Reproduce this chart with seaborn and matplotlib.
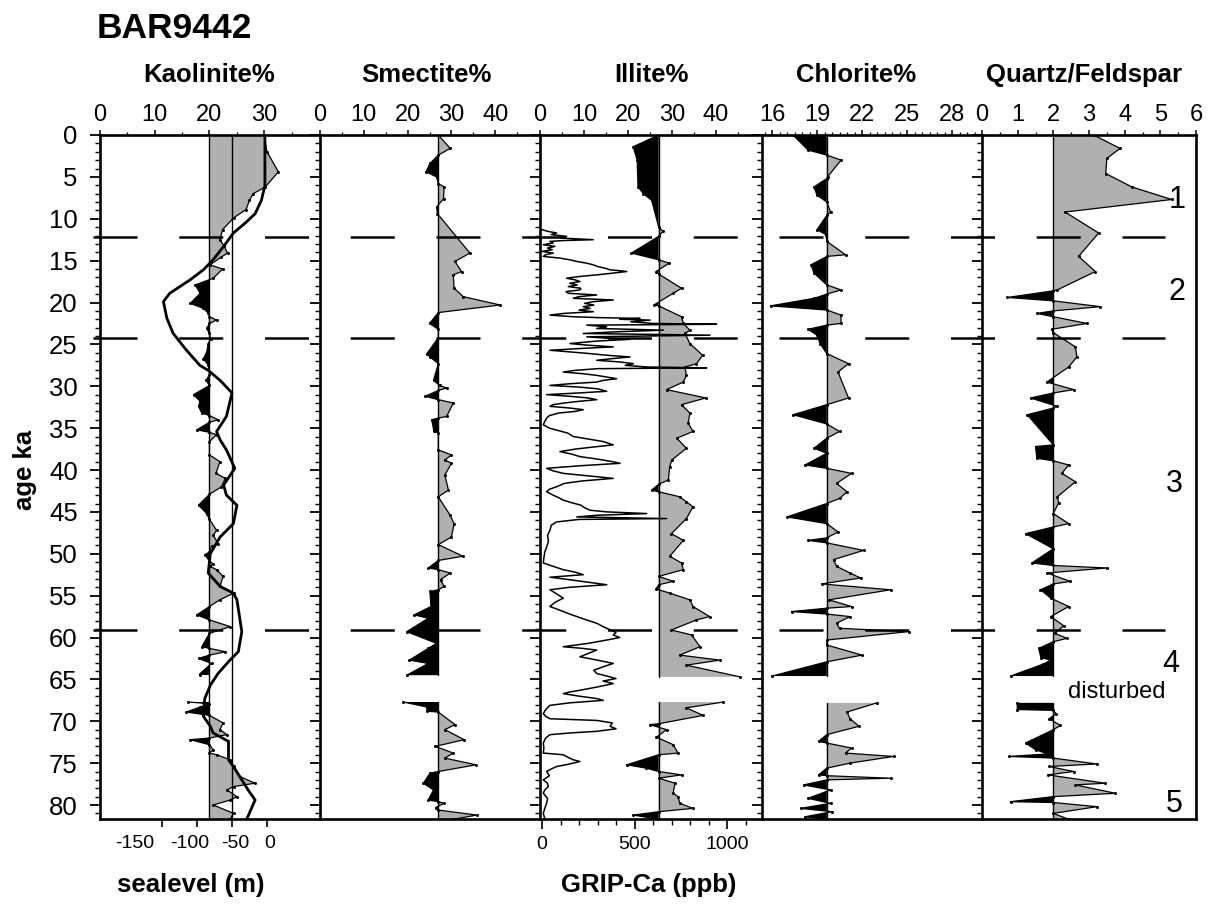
import numpy as np
import matplotlib
matplotlib.use("Agg")
import matplotlib.pyplot as plt
import seaborn as sns
from matplotlib.lines import Line2D
from matplotlib.transforms import blended_transform_factory
from matplotlib.ticker import FixedLocator, MultipleLocator

nan = np.nan

# ---------------- data (age in ka) ----------------
kao_age = [0, 2.0, 4.4, 6.2, 7.0, 7.8, 8.9, 9.9, 11.3, 12.5, 13.3, 14.1, 14.6, 15.5, 16.0, 17.1, 17.9, 18.9, 20.1, 20.7,
           21.3, 21.7, 22.1, 22.5, 23.1, 23.7, 24.3, 24.9, 25.9, 26.7, 27.5, 28.6, 29.3, 29.9, 31.0, 31.8, 32.4, 33.2, 33.5, 34.0,
           34.3, 35.2, 35.5, 35.8, 36.6, 38.2, 39.0, 40.4, 41.0, 42.0, 42.9, 44.2, 45.2, 45.9, 47.2, 47.8, 48.8, 49.1, 49.8, 50.1,
           50.9, 51.2, 51.5, 51.9, 52.7, 53.9, 54.7, 55.5, 56.3, 57.3, 57.9, 58.7, 59.5, 61.1, 61.3, 61.7, 62.1, 62.5, 63.1, 64.3,
           64.5, nan,
           67.7, 67.9, 68.3, 68.9, 69.3, 70.2, 71.0, 71.6, 72.0, 72.2, 72.8, 73.4, 73.8, 74.0, 74.6, 75.4, 76.6, 77.4, 77.8, 78.2,
           79.0, 79.4, 80.0, 81.0, 81.7]
kao_pct = [30.0, 30.5, 32.6, 30.2, 28.0, 27.3, 26.7, 24.4, 22.4, 21.9, 22.7, 23.3, 22.1, 20.1, 22.4, 20.7, 17.4, 18.3, 16.5, 18.9,
           19.8, 20.0, 21.3, 20.0, 19.5, 20.0, 20.2, 19.8, 19.5, 18.9, 19.8, 20.0, 19.4, 20.0, 17.1, 18.3, 18.0, 18.6, 20.0, 21.6,
           20.0, 17.7, 20.0, 21.3, 20.0, 20.0, 21.9, 21.2, 22.9, 22.2, 20.0, 18.0, 19.5, 20.0, 21.3, 20.7, 21.6, 20.4, 20.0, 19.2,
           20.0, 20.7, 20.1, 21.3, 22.5, 21.9, 24.4, 21.9, 20.0, 17.7, 20.0, 23.8, 20.0, 18.6, 20.0, 22.9, 20.0, 18.0, 20.4, 18.3,
           18.3, nan,
           16.1, 20.0, 18.3, 15.8, 20.0, 22.5, 21.9, 23.2, 20.0, 16.5, 20.0, 20.7, 20.0, 21.3, 23.8, 24.4, 25.6, 28.3, 24.4, 23.2,
           25.0, 23.8, 20.7, 24.4, 23.8]

sea_age = [0, 6.0, 7.8, 9.4, 10.5, 11.7, 13.3, 14.9, 16.1, 17.3, 18.9, 19.9, 21.9, 23.7, 25.7, 27.5, 28.1, 29.3, 30.8, 33.6,
           35.4, 36.4, 37.6, 39.8, 41.8, 43.0, 44.2, 46.4, 48.0, 50.0, 52.3, 53.9, 54.7, 55.5, 59.3, 61.7, 62.7, 64.3, 65.7, 67.3,
           69.4, 70.6, 71.4, 72.4, 74.6, 75.4, 78.2, 79.4, 81.7]
sea_m = [-3, -3, -8, -17, -31, -48, -62, -77, -91, -110, -139, -148, -143, -134, -115, -96, -84, -67, -50, -58,
         -72, -67, -58, -46, -62, -58, -43, -48, -67, -81, -84, -67, -48, -43, -36, -41, -53, -70, -81, -89,
         -91, -81, -77, -55, -55, -48, -27, -17, -29]
sea_ticks = [-150, -100, -50, 0]

smc_age = [0, 1.6, 2.4, 3.4, 4.4, 5.0, 5.8, 6.2, 7.6, 8.6, 9.4, 14.1, 15.1, 16.3, 16.7, 18.3, 19.3, 20.3, 21.2, 22.5,
           23.2, 24.2, 26.1, 26.5, 27.3, 29.3, 29.9, 30.2, 30.5, 31.2, 31.6, 32.0, 33.6, 33.8, 34.0, 35.4, 35.6, 37.6, 38.2, 38.8,
           39.2, 40.6, 42.4, 43.2, 45.4, 46.4, 48.0, 48.9, 50.3, 50.8, 51.7, 51.9, 52.3, 53.1, 53.9, 54.3, 54.5, 56.3, 57.3, 57.7,
           59.3, 60.7, 61.3, 62.7, 63.1, 64.5, nan,
           67.7, 68.3, 68.8, 68.9, 70.4, 71.0, 72.2, 73.0, 73.8, 74.4, 75.2, 76.0, 76.2, 77.4, 78.2, 79.4, 79.6, 79.8, 80.3, 80.6,
           81.2, 81.7]
smc_pct = [27.0, 29.7, 27.0, 25.1, 24.2, 26.6, 27.0, 28.3, 28.2, 26.6, 26.8, 34.2, 30.8, 32.3, 30.4, 30.6, 32.7, 41.1, 27.0, 25.0,
           27.0, 27.0, 24.4, 25.1, 27.0, 25.9, 27.3, 28.9, 27.0, 24.0, 27.0, 30.4, 28.9, 27.0, 25.5, 26.0, 27.0, 27.0, 30.0, 28.5,
           30.0, 28.5, 29.3, 27.0, 29.7, 30.6, 30.0, 27.0, 32.6, 27.0, 24.7, 27.0, 29.7, 27.5, 28.3, 27.0, 25.1, 25.3, 21.5, 24.7,
           19.8, 26.6, 24.7, 20.4, 24.7, 19.8, nan,
           19.0, 24.4, 24.4, 27.0, 30.8, 28.5, 32.9, 26.3, 30.4, 28.5, 35.6, 27.0, 25.1, 23.6, 25.9, 24.7, 27.0, 28.3, 26.4, 27.0,
           35.8, 30.4]

ill_age = [0, 1.4, 3.0, 6.2, 7.0, 7.8, 11.0, 11.5, 12.1, 14.1, 14.9, 15.3, 16.3, 16.6, 18.3, 18.9, 20.3, 20.4, 21.7, 22.5,
           23.3, 23.7, 24.9, 26.3, 27.3, 27.7, 28.7, 29.5, 30.4, 31.4, 32.2, 33.2, 34.4, 35.4, 36.2, 37.4, 38.8, 39.6, 41.2, 41.7,
           42.4, 42.6, 43.2, 43.8, 44.4, 45.8, 47.6, 48.4, 50.3, 51.1, 51.9, 52.7, 53.3, 53.7, 54.2, 54.7, 55.5, 56.3, 57.5, 57.9,
           59.1, 59.7, 61.1, 62.1, 62.7, 63.3, 64.7, nan,
           67.7, 68.4, 69.3, 70.3, 70.4, 71.0, 71.9, 72.8, 73.8, 74.0, 75.2, 75.6, 76.0, 76.4, 76.8, 77.4, 78.6, 79.0, 79.8, 80.4,
           80.8, 81.2, 81.7]
ill_pct = [27.0, 21.2, 22.1, 22.3, 23.5, 25.4, 27.0, 28.0, 27.0, 20.8, 27.0, 29.4, 26.4, 27.0, 32.2, 30.3, 25.9, 27.0, 32.2, 32.6,
           34.1, 33.0, 34.1, 37.0, 35.6, 33.0, 33.3, 32.6, 28.8, 37.7, 32.2, 34.1, 33.7, 34.8, 31.1, 33.3, 30.0, 29.5, 29.2, 27.0,
           25.4, 27.0, 31.8, 33.3, 34.8, 33.3, 29.9, 32.6, 29.5, 32.2, 32.6, 27.0, 30.3, 27.0, 26.4, 29.5, 34.1, 34.8, 38.6, 35.6,
           29.9, 34.5, 36.4, 31.8, 40.9, 33.3, 45.5, nan,
           41.7, 33.3, 37.1, 27.0, 25.0, 28.8, 26.5, 30.3, 31.4, 27.0, 19.7, 24.2, 27.0, 32.2, 27.0, 30.7, 30.3, 31.4, 31.8, 34.8,
           27.0, 21.2, 27.0]

ca_age = [11.3, 11.5, 11.7, 11.9, 12.1, 12.3, 12.5, 12.6, 12.7, 12.9,
          13.1, 13.3, 13.5, 13.7, 13.9, 14.1, 14.3, 14.5, 14.7, 14.9,
          15.1, 15.3, 15.5, 15.7, 15.9, 16.1, 16.2, 16.3, 16.5, 16.7,
          16.9, 17.1, 17.3, 17.5, 17.7, 17.9, 18.1, 18.3, 18.5, 18.7,
          18.9, 19.1, 19.3, 19.5, 19.7, 19.9, 20.1, 20.3, 20.5, 20.7,
          20.9, 21.1, 21.3, 21.5, 21.7, 21.8, 21.9, 22.0, 22.1, 22.3,
          22.5, 22.6, 22.7, 22.9, 23.1, 23.3, 23.5, 23.7, 23.9, 24.1,
          24.3, 24.4, 24.6, 24.9, 25.1, 25.3, 25.5, 25.7, 25.9, 26.1,
          26.3, 26.5, 26.7, 26.9, 27.1, 27.3, 27.5, 27.7, 27.8, 27.9,
          28.1, 28.3, 28.5, 28.7, 28.9, 29.1, 29.3, 29.5, 29.7, 29.9,
          30.1, 30.3, 30.6, 30.8, 31.0, 31.2, 31.4, 31.6, 31.8, 32.0,
          32.2, 32.4, 32.6, 32.8, 33.0, 33.2, 33.5, 33.8, 34.2, 34.6,
          35.0, 35.3, 35.6, 36.0, 36.3, 36.6, 37.0, 37.2, 37.5, 37.8,
          38.1, 38.4, 38.7, 39.0, 39.2, 39.5, 39.8, 40.1, 40.4, 40.7,
          41.0, 41.3, 41.6, 42.0, 42.3, 42.6, 43.0, 43.3, 43.6, 43.9,
          44.2, 44.5, 44.8, 45.0, 45.2, 45.4, 45.6, 45.8, 45.9, 46.2,
          46.6, 47.2, 47.8, 48.5, 49.2, 49.8, 50.5, 51.1, 51.5, 51.9,
          52.2, 52.5, 52.8, 53.1, 53.4, 53.7, 54.0, 54.3, 54.8, 55.3,
          55.8, 56.3, 56.6, 56.9, 57.2, 57.5, 57.9, 58.3, 58.7, 59.0,
          59.4, 59.7, 60.0, 60.3, 60.7, 61.1, 61.3, 61.5, 61.9, 62.3,
          62.7, 63.1, 63.5, 63.9, 64.3, 64.6, 64.9, 65.2, 65.5, 65.9,
          66.3, 66.5, 66.7, 67.0, 67.3, 67.5, 67.8, 68.1, 68.6, 69.1,
          69.4, 69.7, 69.9, 70.2, 70.6, 70.9, 71.2, 71.4, 71.6, 72.0,
          72.6, 73.2, 73.8, 74.0, 74.3, 74.6, 74.8, 75.1, 75.4, 75.7,
          76.0, 76.5, 77.0, 77.4, 77.8, 78.2, 78.6, 79.2, 79.8, 80.4,
          81.0, 81.7]
ca_ppb = [0, 30, 79, 50, 133, 100, 277, 120, 43, 60,
          7, 70, 30, 55, 0, 61, 20, 7, 97, 150,
          188, 240, 277, 300, 340, 368, 420, 458, 380, 296,
          200, 133, 180, 205, 150, 190, 142, 210, 205, 130,
          142, 296, 200, 169, 385, 277, 230, 280, 223, 260,
          200, 277, 120, 43, 169, 300, 530, 420, 584, 480,
          600, 944, 242, 350, 296, 656, 400, 223, 908, 242,
          380, 476, 300, 151, 250, 385, 200, 43, 150, 259,
          350, 476, 380, 296, 420, 494, 450, 566, 890, 300,
          180, 115, 220, 296, 350, 403, 330, 296, 150, 43,
          200, 300, 350, 200, 25, 150, 250, 296, 200, 120,
          60, 43, 150, 223, 180, 90, 40, 25, 15, 7,
          40, 90, 140, 169, 250, 330, 385, 300, 180, 97,
          160, 205, 300, 380, 422, 200, 25, 60, 115, 250,
          385, 220, 120, 79, 40, 25, 60, 90, 115, 160,
          210, 230, 259, 350, 566, 300, 188, 674, 200, 79,
          50, 43, 30, 35, 25, 15, 10, 7, 60, 115,
          180, 223, 43, 150, 250, 350, 150, 43, 80, 115,
          70, 43, 80, 115, 150, 188, 240, 296, 330, 360,
          400, 385, 420, 350, 250, 115, 220, 296, 250, 205,
          300, 385, 330, 280, 296, 350, 400, 330, 385, 300,
          205, 150, 115, 200, 300, 331, 150, 43, 20, 7,
          20, 43, 296, 380, 368, 400, 296, 150, 43, 20,
          7, 10, 7, 115, 140, 169, 205, 150, 79, 50,
          25, 40, 7, 30, 34, 15, 7, 30, 25, 15,
          7, 16]

chl_age = [0, 1.8, 2.4, 3.0, 5.0, 5.2, 6.2, 7.2, 8.0, 9.2, 9.6, 11.3, 11.9, 12.7, 14.3, 14.5, 15.5, 16.5, 17.9, 18.5,
           19.0, 19.5, 20.4, 20.9, 21.5, 22.5, 22.7, 23.2, 23.9, 24.9, 26.1, 27.3, 28.3, 31.4, 32.2, 33.4, 34.5, 35.4, 36.2, 37.4,
           38.0, 39.4, 39.8, 40.4, 41.6, 42.6, 43.4, 44.0, 45.6, 46.4, 47.4, 48.1, 48.4, 48.7, 49.6, 50.7, 51.5, 52.3, 52.9, 53.6,
           54.3, 55.5, 56.3, 56.5, 56.9, 57.2, 57.5, 58.3, 58.9, 59.3, 60.3, 60.9, 62.1, 62.9, 64.6, nan,
           67.8, 68.9, 69.7, 70.6, 71.6, 72.4, 72.6, 73.2, 73.8, 74.2, 75.0, 75.6, 76.4, 76.5, 76.8, 77.0, 77.6, 78.2, 79.2, 79.8,
           80.4, 80.8, 81.4, 81.7]
chl_pct = [17.4, 18.4, 19.65, 20.6, 19.7, 19.65, 18.8, 19.0, 19.65, 19.9, 19.65, 19.0, 19.6, 19.65, 20.9, 19.65, 18.6, 18.8, 19.65, 20.6,
           19.65, 18.8, 15.9, 19.65, 20.6, 20.6, 19.65, 18.4, 19.0, 19.2, 19.65, 21.1, 20.4, 21.1, 19.65, 17.4, 19.65, 20.5, 19.65, 18.8,
           19.65, 18.2, 19.65, 21.3, 20.3, 21.0, 20.5, 19.65, 17.0, 19.65, 20.4, 19.65, 18.4, 19.65, 22.1, 20.1, 20.3, 21.2, 21.9, 19.3,
           23.9, 19.8, 21.3, 19.65, 17.3, 19.65, 21.2, 20.3, 20.5, 25.1, 19.65, 19.65, 22.0, 19.65, 16.0, nan,
           23.0, 21.0, 21.2, 21.8, 19.65, 19.1, 19.65, 21.3, 20.9, 24.1, 21.2, 19.65, 19.1, 19.65, 23.9, 19.65, 18.1, 19.9, 18.4, 19.9,
           17.9, 20.0, 18.2, 19.65]

qf_age = [0, 1.6, 2.8, 4.6, 6.2, 7.7, 9.2, 11.7, 14.5, 16.3, 18.5, 18.6, 19.4, 19.8, 20.5, 21.0, 21.3, 21.7, 22.5, 23.2,
          23.6, 25.3, 26.5, 27.7, 29.5, 30.4, 30.8, 31.4, 32.4, 32.6, 33.4, 37.0, 37.2, 38.6, 38.9, 39.4, 40.4, 41.4, 43.2, 43.9,
          45.2, 46.4, 46.8, 47.6, 49.4, 51.1, 51.4, 51.7, 52.3, 53.3, 53.6, 54.3, 55.3, 56.3, 57.5, 58.6, 59.5, 60.1, 60.5, 61.3,
          62.4, 62.7, 63.2, 64.6, nan,
          67.8, 68.6, 68.7, 69.1, 69.7, 70.5, 71.0, 72.6, 73.4, 73.9, 74.2, 74.4, 75.1, 75.4, 76.0, 76.4, 77.4, 77.6, 78.6, 79.0,
          79.6, 79.7, 80.2, 81.0, 81.7]
qf_ratio = [3.13, 3.87, 3.50, 3.47, 4.20, 5.32, 2.33, 3.27, 2.71, 3.18, 2.11, 2.0, 0.71, 2.0, 3.32, 2.0, 1.54, 2.0, 2.94, 1.95,
            2.0, 2.62, 2.66, 2.43, 1.82, 2.57, 2.0, 1.36, 2.11, 2.0, 1.27, 2.0, 1.50, 1.54, 2.0, 2.43, 2.24, 2.62, 2.11, 2.15,
            2.0, 2.43, 2.0, 1.22, 2.0, 1.40, 2.0, 3.50, 1.82, 2.48, 2.0, 1.64, 1.93, 2.43, 1.93, 2.29, 2.05, 2.38, 2.0, 1.59,
            1.65, 1.93, 1.70, 0.80, nan,
            0.99, 0.99, 2.0, 2.08, 1.88, 2.2, 2.0, 1.22, 1.50, 1.85, 0.75, 2.0, 3.22, 1.88, 2.57, 1.85, 3.46, 2.62, 3.74, 2.0,
            0.80, 2.0, 3.22, 2.0, 2.43]

panel_titles = ["Kaolinite%", "Smectite%", "Illite%", "Chlorite%", "Quartz/Feldspar"]
boundaries_ka = [12.2, 24.2, 59.1]
stage_labels = ["1", "2", "3", "4", "5"]

# ---------------- styling ----------------
sns.set_style("ticks", rc={"axes.edgecolor": "black", "xtick.color": "black", "ytick.color": "black",
                           "text.color": "black", "axes.labelcolor": "black"})
plt.rcParams["font.family"] = ["Liberation Sans", "DejaVu Sans"]
plt.rcParams["axes.unicode_minus"] = False

W, H = 1213, 907
TOP, BOT = 135, 819
GRAY = "#b0b0b0"
fig = plt.figure(figsize=(W / 100, H / 100), dpi=100)


def rect(x0, x1):
    return [x0 / W, 1 - BOT / H, (x1 - x0) / W, (BOT - TOP) / H]


edges = [100, 320, 540, 762, 982, 1196]
axes = [fig.add_axes(rect(edges[i], edges[i + 1])) for i in range(5)]


def segments(age, val):
    age = np.asarray(age, float)
    val = np.asarray(val, float)
    bad = np.where(np.isnan(val))[0]
    bounds = [-1] + list(bad) + [len(val)]
    segs = []
    for a, b in zip(bounds[:-1], bounds[1:]):
        if b - a > 1:
            segs.append((age[a + 1:b], val[a + 1:b]))
    return segs


def mineral(ax, age, val, base, full_base=False):
    for a, v in segments(age, val):
        ax.fill_betweenx(a, base, v, where=v >= base, interpolate=True, color=GRAY, lw=0, zorder=1)
        ax.fill_betweenx(a, base, v, where=v <= base, interpolate=True, color="black", lw=0, zorder=1)
        sns.lineplot(x=v, y=a, orient="y", sort=False, estimator=None, ax=ax, color="black",
                     lw=0.9, marker="o", markersize=2.2, markeredgewidth=0, zorder=3)
        if not full_base:
            ax.plot([base, base], [a[0], a[-1]], color="black", lw=1.0, zorder=2)
    if full_base:
        ax.axvline(base, color="black", lw=1.0, zorder=2)


# twin axes first (twiny moves the parent's ticks)
sl = axes[0].twiny()
ca = axes[2].twiny()

mineral(axes[0], kao_age, kao_pct, 20.0, full_base=True)
mineral(axes[1], smc_age, smc_pct, 27.0)
mineral(axes[2], ill_age, ill_pct, 27.0)
mineral(axes[3], chl_age, chl_pct, 19.65)
mineral(axes[4], qf_age, qf_ratio, 2.0)

sns.lineplot(x=np.array(sea_m, float), y=np.array(sea_age, float), orient="y", sort=False, estimator=None,
             ax=sl, color="black", lw=2.0, zorder=4)
sl.axvline(-50, color="black", lw=1.0, zorder=2)
sns.lineplot(x=np.array(ca_ppb, float), y=np.array(ca_age, float), orient="y", sort=False, estimator=None,
             ax=ca, color="black", lw=1.1, zorder=4)

xlims = [(0, 40.2), (0, 50.2), (0, 50.5), (15.33, 30.0), (0, 6.0)]
majors = [[0, 10, 20, 30], [0, 10, 20, 30, 40], [0, 10, 20, 30, 40], [16, 19, 22, 25, 28], [0, 1, 2, 3, 4, 5, 6]]
minors = [[5, 15, 25, 35], [5, 15, 25, 35, 45], [5, 15, 25, 35, 45],
          list(np.arange(15.5, 30.0, 0.5)), list(np.arange(0.5, 6.0, 1.0))]

for i, ax in enumerate(axes):
    ax.set_xlim(*xlims[i])
    ax.set_ylim(81.67, 0)
    ax.set_xlabel("")
    ax.set_ylabel("")
    ax.xaxis.set_major_locator(FixedLocator(majors[i]))
    ax.xaxis.set_minor_locator(FixedLocator(minors[i]))
    ax.yaxis.set_major_locator(MultipleLocator(5))
    ax.yaxis.set_minor_locator(MultipleLocator(1))
    ax.xaxis.tick_top()
    ax.tick_params(axis="x", which="major", direction="out", length=3.5, width=1.1, top=True, bottom=False,
                   labeltop=True, labelbottom=False, labelsize=17, pad=3)
    ax.tick_params(axis="x", which="minor", direction="out", length=2.2, width=0.9, top=True, bottom=False)
    ax.tick_params(axis="y", which="major", direction="out", length=7, width=1.3, left=True, right=False,
                   labelleft=(i == 0), labelright=False, labelsize=18.5, pad=9)
    ax.tick_params(axis="y", which="minor", direction="out", length=3.5, width=1.0, left=True, right=False)
    for s in ["top", "bottom", "left", "right"]:
        ax.spines[s].set_linewidth(1.9)
        ax.spines[s].set_color("black")
    ax.spines["right"].set_visible(i == 4)

# sealevel axis (bottom of first panel): ticks from the axis, labels set as in the original typesetting
sl.set_xlim(-238.6, 75.7)
sl.set_ylim(81.67, 0)
sl.set_xlabel("")
sl.set_ylabel("")
sl.xaxis.tick_bottom()
sl.xaxis.set_major_locator(FixedLocator(sea_ticks))
sl.tick_params(axis="x", which="major", direction="out", length=5.5, width=1.2, bottom=True, top=False,
               labelbottom=False, labeltop=False)
for s in sl.spines.values():
    s.set_visible(False)

# GRIP-Ca axis (bottom of third panel)
ca.set_xlim(-10.8, 1189)
ca.set_ylim(81.67, 0)
ca.set_xlabel("")
ca.set_ylabel("")
ca.xaxis.tick_bottom()
ca.xaxis.set_major_locator(FixedLocator([0, 500, 1000]))
ca.xaxis.set_minor_locator(FixedLocator([100, 200, 300, 400, 600, 700, 800, 900, 1100]))
ca.tick_params(axis="x", which="major", direction="out", length=7, width=1.2, bottom=True, top=False,
               labelbottom=True, labeltop=False, labelsize=14, pad=5)
ca.tick_params(axis="x", which="minor", direction="out", length=4.5, width=1.0, bottom=True, top=False)
for s in ca.spines.values():
    s.set_visible(False)

# long dashed stage boundaries across the whole figure
trans = blended_transform_factory(fig.transFigure, axes[0].transData)
lw_d = 1.8
for a in boundaries_ka:
    fig.add_artist(Line2D([93 / W, 1165 / W], [a, a], transform=trans, color="black", lw=lw_d,
                          dashes=(44 * 0.72 / lw_d, 41.75 * 0.72 / lw_d), clip_on=False, zorder=10))


# texts
def ft(xp, yp, s, **kw):
    fig.text(xp / W, 1 - yp / H, s, **kw)


ft(97, 28, "BAR9442", ha="left", va="center", fontsize=25.5, fontweight="bold")
title_x = [209, 426, 651, 856, 1084]
for t, xp in zip(panel_titles, title_x):
    ft(xp, 75, t, ha="center", va="center", fontsize=18.5, fontweight="bold")
ft(25, 470, "age ka", ha="center", va="center", rotation=90, fontsize=18.5, fontweight="bold")
ft(191, 885, "sealevel (m)", ha="center", va="center", fontsize=18.5, fontweight="bold")
ft(649, 885, "GRIP-Ca (ppb)", ha="center", va="center", fontsize=18.5, fontweight="bold")

sea_label_x = [135, 190, 235, 270]
for v, xp in zip(sea_ticks, sea_label_x):
    ft(xp, 844, str(v), ha="center", va="center", fontsize=14)

stage_pos = [(1177, 200), (1177, 292), (1174, 484), (1171, 664), (1174, 804)]
for s, (xp, yp) in zip(stage_labels, stage_pos):
    ft(xp, yp, s, ha="center", va="center", fontsize=22)
ft(1117, 692, "disturbed", ha="center", va="center", fontsize=17)

fig.savefig("out.png", dpi=100)
